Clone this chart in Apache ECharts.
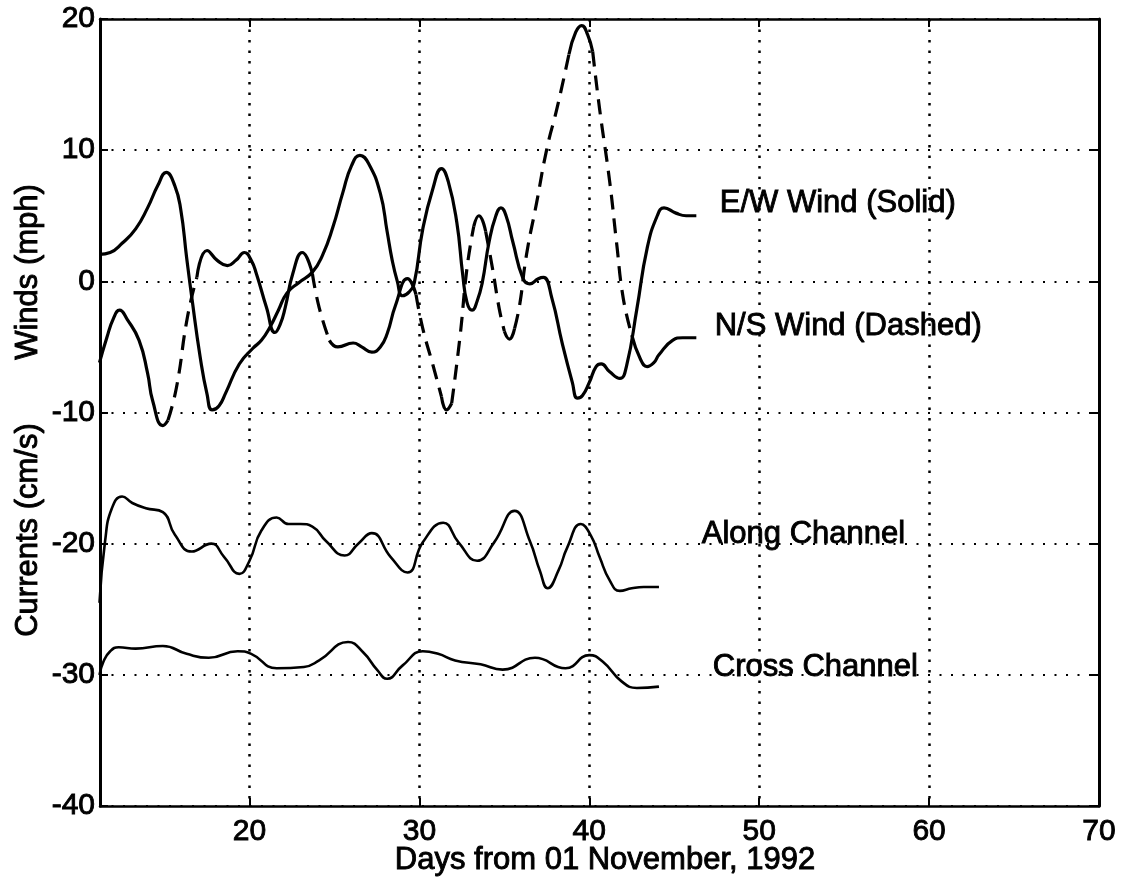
<!DOCTYPE html>
<html><head><meta charset="utf-8">
<script src="https://cdn.jsdelivr.net/npm/echarts@6/dist/echarts.min.js"></script>
<style>html,body{margin:0;padding:0;background:#fff}#chart{width:1128px;height:884px}</style>
</head><body><div id="chart"></div>
<script>
// ---- data ----
const xTicks = [20, 30, 40, 50, 60, 70];

const ewDays = [11.17,11.8,12.5,13.3,14.0,14.6,15.1,15.6,15.95,16.3,16.6,17.1,17.5,17.8,18.2,18.6,19.4,20.2,20.7,21.2,21.7,22.2,22.9,23.7,24.3,24.9,25.5,26.0,26.5,27.0,27.7,28.1,28.4,28.7,29.0,29.4,29.7,30.2,30.8,31.3,31.7,32.2,32.55,32.8,33.1,33.4,33.7,34.1,34.5,34.8,35.1,35.5,36.1,36.5,37.0,37.3,37.8,38.4,39.0,39.3,39.6,40.0,40.4,40.7,41.2,41.8,42.2,42.8,43.4,44.0,44.4,45.1,45.7,46.3];
const ewWind = [2.06,2.2,2.9,4.0,5.6,7.3,8.3,7.3,5.5,1.8,-1.2,-5.8,-8.6,-9.8,-9.5,-8.5,-6.3,-5.1,-4.5,-3.5,-2.2,-0.9,-0.1,0.7,2.0,4.1,6.8,8.8,9.6,9.0,6.7,3.8,1.6,0.0,-1.1,-0.8,-0.1,4.0,7.1,8.6,7.6,4.5,0.5,-1.6,-2.2,-1.5,-0.1,3.0,5.0,5.6,5.0,3.0,0.2,-0.2,0.2,0.3,-1.3,-4.7,-7.7,-8.9,-8.7,-7.7,-6.5,-6.3,-6.9,-7.4,-6.4,-2.1,2.5,5.0,5.6,5.2,5.0,5.0];

const nsDays = [11.17,11.6,12.0,12.35,12.8,13.5,14.0,14.3,14.9,15.2,15.7,16.35,16.9,17.5,18.1,18.7,19.2,19.7,20.1,20.4,21.0,21.5,21.8,22.1,22.55,23.1,23.7,24.1,24.7,25.2,26.1,26.6,27.2,27.7,28.1,28.6,29.3,29.8,30.2,30.8,31.3,31.6,31.9,32.4,32.8,33.2,33.5,33.9,34.3,34.7,35.0,35.3,35.6,35.9,36.3,36.9,37.5,38.1,38.8,39.2,39.55,39.9,40.2,40.6,41.2,41.6,42.0,42.5,43.0,43.4,43.8,44.1,44.9,45.5,46.3];
const nsWind = [-6.2,-4.3,-2.8,-2.2,-2.9,-4.5,-7.0,-9.1,-11.0,-10.6,-8.1,-2.7,0.3,2.35,1.6,1.2,1.6,2.2,1.6,0.6,-2.0,-3.9,-3.3,-2.0,0.6,2.2,0.6,-2.0,-4.5,-5.0,-4.7,-5.0,-5.4,-5.0,-4.0,-1.8,0.2,-1.0,-3.6,-6.4,-8.8,-9.8,-9.3,-4.1,1.0,4.2,5.0,3.8,1.0,-2.1,-3.8,-4.4,-3.6,-1.8,2.0,6.0,10.1,13.2,17.3,19.0,19.5,18.8,17.5,13.2,7.6,3.0,-1.3,-4.1,-5.9,-6.5,-6.2,-5.6,-4.5,-4.3,-4.3];

const alongDays = [11.17,11.5,11.9,12.5,13.1,13.9,14.9,15.6,16.6,17.75,18.5,19.4,20.0,20.7,21.6,22.3,23.0,23.7,24.5,25.6,26.4,27.2,28.3,29.3,30.2,31.4,32.3,33.4,34.4,35.6,36.5,37.1,37.55,38.2,38.7,39.5,40.1,40.6,41.2,41.8,42.5,43.2,44.1];
const alongCur = [-24.5,-19.8,-17.3,-16.4,-16.9,-17.3,-17.6,-19.3,-20.6,-20.0,-21.0,-22.3,-21.3,-19.0,-18.0,-18.5,-18.5,-18.7,-19.8,-20.9,-20.0,-19.2,-21.0,-22.2,-19.9,-18.4,-19.9,-21.3,-19.9,-17.5,-19.8,-22.1,-23.4,-22.0,-20.3,-18.5,-19.4,-21.0,-22.8,-23.6,-23.4,-23.3,-23.3];

const crossDays = [11.17,11.4,11.8,12.3,13.3,14.9,16.3,17.6,19.3,20.1,21.6,23.2,24.1,25.8,26.7,27.5,28.1,29.0,30.2,31.1,32.1,33.6,34.9,36.8,38.6,40.0,40.8,41.9,42.8,44.1];
const crossCur = [-30.0,-29.0,-28.2,-27.9,-28.0,-27.8,-28.4,-28.7,-28.2,-28.4,-29.5,-29.4,-28.9,-27.5,-28.3,-29.6,-30.3,-29.3,-28.2,-28.4,-28.9,-29.2,-29.6,-28.7,-29.5,-28.5,-29.0,-30.5,-31.0,-30.9];

// ---- styling / layout ----
const FONT = '"Liberation Sans", Arial, Helvetica, sans-serif';
// day ranges where the N/S trace shows visible dashes in the original print
const nsDashRanges = [[15.2,16.9],[23.7,24.7],[29.8,31.3],[31.9,33.2],[33.9,35.0],[35.6,38.8],[40.2,42.5]];
const annotations = [
  {text: 'E/W Wind (Solid)', x: 47.68, y: 5.9},
  {text: 'N/S Wind (Dashed)', x: 47.38, y: -3.45},
  {text: 'Along Channel', x: 46.62, y: -19.3},
  {text: 'Cross Channel', x: 47.27, y: -29.4}
];

function pairs(xs, ys) { return xs.map((x, i) => [x, ys[i]]); }
function inRange(x, strict) {
  return nsDashRanges.some(([a, b]) => strict ? (x > a && x < b) : (x >= a && x <= b));
}
const nsSolidPart = nsDays.map((x, i) => [x, inRange(x, true) ? '-' : nsWind[i]]);
const nsDashedPart = nsDays.map((x, i) => [x, inRange(x, false) ? nsWind[i] : '-']);

const chart = echarts.init(document.getElementById('chart'), null, {renderer: 'canvas'});

const axisLineStyle = {color: '#000', width: 2.5};
const tickStyle = {color: '#000', width: 2};
const labelStyle = {fontSize: 30, color: '#000', fontFamily: FONT, textBorderColor: '#000', textBorderWidth: 0.9};

function lineSeries(name, data, width, dashed) {
  return {
    name: name, type: 'line', data: data, smooth: 0.5,
    symbol: 'none', connectNulls: false, z: 5,
    lineStyle: {color: '#000', width: width, type: dashed ? [15, 9] : 'solid', cap: 'butt', join: 'round'}
  };
}

const option = {
  backgroundColor: '#fff',
  animation: false,
  grid: {left: 100, right: 29, top: 19, bottom: 78, containLabel: false},
  xAxis: [
    {
      type: 'value', min: 11.2, max: 70, position: 'bottom',
      axisLine: {show: true, onZero: false, lineStyle: axisLineStyle},
      axisTick: {show: true, inside: true, length: 8, customValues: xTicks, lineStyle: tickStyle},
      axisLabel: Object.assign({customValues: xTicks, margin: 11}, labelStyle),
      splitLine: {show: true, lineStyle: {color: '#000', width: 2.5, type: [2.5, 8]}}
    },
    {
      type: 'value', min: 11.2, max: 70, position: 'top',
      axisLine: {show: true, onZero: false, lineStyle: axisLineStyle},
      axisTick: {show: true, inside: true, length: 8, customValues: xTicks, lineStyle: tickStyle},
      axisLabel: {show: false}, splitLine: {show: false}
    }
  ],
  yAxis: [
    {
      type: 'value', min: -40, max: 20, interval: 10, position: 'left',
      axisLine: {show: true, onZero: false, lineStyle: {color: '#000', width: 3}},
      axisTick: {show: true, inside: true, length: 8, lineStyle: tickStyle},
      axisLabel: Object.assign({margin: 5}, labelStyle),
      splitLine: {show: true, lineStyle: {color: '#000', width: 2, type: [2, 9.5]}}
    },
    {
      type: 'value', min: -40, max: 20, interval: 10, position: 'right',
      axisLine: {show: true, onZero: false, lineStyle: {color: '#000', width: 3}},
      axisTick: {show: true, inside: true, length: 8, lineStyle: tickStyle},
      axisLabel: {show: false}, splitLine: {show: false}
    }
  ],
  series: [
    lineSeries('Cross Channel', pairs(crossDays, crossCur), 2.6, false),
    lineSeries('Along Channel', pairs(alongDays, alongCur), 2.6, false),
    lineSeries('N/S Wind', nsSolidPart, 3.2, false),
    lineSeries('N/S Wind (dashed)', nsDashedPart, 3.2, true),
    lineSeries('E/W Wind', pairs(ewDays, ewWind), 3.2, false)
  ]
};
chart.setOption(option);

const textStyle = {fill: '#000', fontSize: 31, fontFamily: FONT, stroke: '#000', lineWidth: 0.9};
const graphics = [
  {type: 'text', x: 28, y: 272, rotation: Math.PI / 2,
   style: Object.assign({text: 'Winds (mph)', align: 'center', verticalAlign: 'middle'}, textStyle)},
  {type: 'text', x: 28, y: 530, rotation: Math.PI / 2,
   style: Object.assign({text: 'Currents (cm/s)', align: 'center', verticalAlign: 'middle'}, textStyle)},
  {type: 'text', x: 605, y: 860,
   style: Object.assign({text: 'Days from 01 November, 1992', align: 'center', verticalAlign: 'middle'}, textStyle)}
];
annotations.forEach(a => {
  const p = chart.convertToPixel({xAxisIndex: 0, yAxisIndex: 0}, [a.x, a.y]);
  graphics.push({type: 'text', x: p[0], y: p[1], z: 10,
    style: Object.assign({text: a.text, align: 'left', verticalAlign: 'middle'}, textStyle)});
});
chart.setOption({graphic: graphics});
</script>
</body></html>
